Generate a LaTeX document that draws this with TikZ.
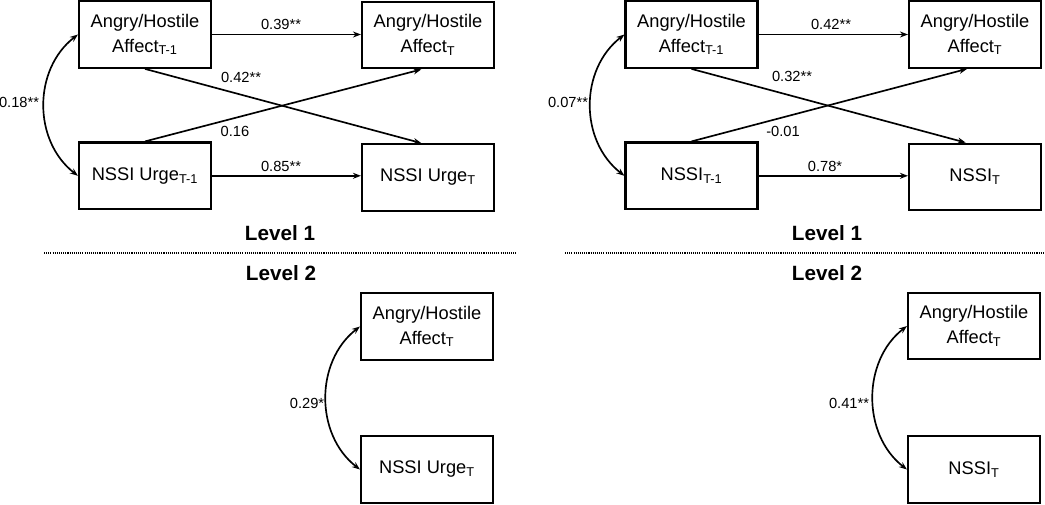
\documentclass[tikz,border=0pt]{standalone}
\usepackage{fontspec}
\setmainfont{Liberation Sans}
\usetikzlibrary{arrows.meta,calc}
\begin{document}
\begin{tikzpicture}[x=0.75pt,y=-0.75pt,
  box/.style={draw, line width=1.6pt, minimum width=99pt, minimum height=50pt, inner sep=0pt, align=center, font=\fontsize{13.7}{18.5}\selectfont},
  lab/.style={anchor=base, inner sep=0pt, font=\fontsize{11}{13}\selectfont},
  lev/.style={anchor=base, inner sep=0pt, font=\bfseries\fontsize{15.5}{18}\selectfont},
  tip/.tip={Stealth[length=6pt,width=4.5pt]},
  arr/.style={line width=1.25pt, -tip},
  dbl/.style={line width=1.25pt, tip-tip},
  sep/.style={line width=1pt, dash pattern=on 0.8pt off 0.8pt}]
\useasboundingbox (0,0) rectangle (1045,504);
% ---------- left panel ----------
\node[box] (lA1) at (145,34.5) {Angry/Hostile\\Affect\textsubscript{T-1}};
\node[box] (lA2) at (428,35) {Angry/Hostile\\Affect\textsubscript{T}};
\node[box] (lN1) at (145,175.8) {NSSI Urge\textsubscript{T-1}};
\node[box] (lN2) at (428,177.5) {NSSI Urge\textsubscript{T}};
\draw[arr] (lA1.east) -- (lA1.east -| lA2.west);
\draw[arr] (lN1.east) -- (lN1.east -| lN2.west);
\draw[arr] (lA1.south) -- ([xshift=-5pt]lN2.north);
\draw[arr] (lN1.north) -- ([xshift=-5pt]lA2.south);
\draw[dbl] (lA1.west) .. controls +(-45,35) and +(-45,-35) .. (lN1.west);
\node[lab] (l39) at (281,29.5) {0.39**};
\node[lab] (l85) at (281,171) {0.85**};
\node[lab] (l42) at (241,82.7) {0.42**};
\node[lab] (l16) at (235,136.7) {0.16};
\node[lab] (l18) at (19,107) {0.18**};
\node[lev] (lL1) at (280,240) {Level 1};
\coordinate (lsa) at (44,253);
\coordinate (lsb) at (516,253);
\draw[sep] (lsa) -- (lsb);
\node[lev] (lL2) at (281,280) {Level 2};
\node[box] (lA3) at (427,326.5) {Angry/Hostile\\Affect\textsubscript{T}};
\node[box] (lN3) at (427,469.5) {NSSI Urge\textsubscript{T}};
\draw[dbl] (lA3.west) .. controls +(-45,35) and +(-45,-35) .. (lN3.west);
\node[lab] (l29) at (307,408) {0.29*};
% ---------- right panel ----------
\node[box] (rA1) at (691.5,34.5) {Angry/Hostile\\Affect\textsubscript{T-1}};
\node[box] (rA2) at (975,34.5) {Angry/Hostile\\Affect\textsubscript{T}};
\node[box] (rN1) at (691.5,175.8) {NSSI\textsubscript{T-1}};
\node[box] (rN2) at (975,177) {NSSI\textsubscript{T}};
\draw[arr] (rA1.east) -- (rA1.east -| rA2.west);
\draw[arr] (rN1.east) -- (rN1.east -| rN2.west);
\draw[arr] (rA1.south) -- ([xshift=-7pt]rN2.north);
\draw[arr] (rN1.north) -- ([xshift=-6pt]rA2.south);
\draw[dbl] (rA1.west) .. controls +(-45,35) and +(-45,-35) .. (rN1.west);
\node[lab] (r42) at (831,29.5) {0.42**};
\node[lab] (r78) at (825,171) {0.78*};
\node[lab] (r32) at (792,81.7) {0.32**};
\node[lab] (r01) at (783,136.7) {-0.01};
\node[lab] (r07) at (568,107) {0.07**};
\node[lev] (rL1) at (827,240) {Level 1};
\coordinate (rsa) at (565,253);
\coordinate (rsb) at (1045,253);
\draw[sep] (rsa) -- (rsb);
\node[lev] (rL2) at (827,280) {Level 2};
\node[box] (rA3) at (974,326) {Angry/Hostile\\Affect\textsubscript{T}};
\node[box] (rN3) at (974,469.5) {NSSI\textsubscript{T}};
\draw[dbl] (rA3.west) .. controls +(-45,35) and +(-45,-35) .. (rN3.west);
\node[lab] (r41) at (849,408) {0.41**};
\end{tikzpicture}
\end{document}
